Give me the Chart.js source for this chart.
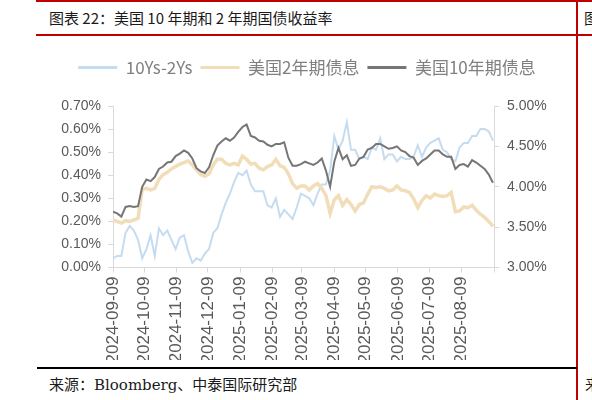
<!DOCTYPE html>
<html>
<head>
<meta charset="utf-8">
<script src="https://cdn.jsdelivr.net/npm/chart.js@4.4.1/dist/chart.umd.min.js"></script>
<style>
  body { margin: 0; background: #fff; }
  #page { position: relative; width: 592px; height: 400px; overflow: hidden; background: #fff; }
  .rule { position: absolute; }
  .txt { position: absolute; white-space: nowrap; }
  #chart { position: absolute; left: 0; top: 0; }
</style>
</head>
<body>
<div id="page">
  <div class="rule" style="left:36px;top:0;width:556px;height:2px;background:#c00000"></div>
  <div class="rule" style="left:36px;top:34px;width:556px;height:2px;background:#c00000"></div>
  <div class="rule" style="left:576px;top:0;width:2px;height:400px;background:#c00000"></div>
  <div class="rule" style="left:37px;top:367px;width:540px;height:2px;background:#000"></div>
  <div class="txt" style="left:49px;top:7px;font:15px 'Noto Sans CJK SC';color:#1a1a1a">图表 22：美国 10 年期和 2 年期国债收益率</div>
  <div class="txt" style="left:584px;top:7px;font:15px 'Noto Sans CJK SC';color:#1a1a1a">图表</div>
  <div class="txt" style="left:49px;top:373px;font:15px 'DejaVu Serif','Noto Sans CJK SC';color:#1a1a1a">来源：Bloomberg、中泰国际研究部</div>
  <div class="txt" style="left:585px;top:373px;font:15px 'Noto Sans CJK SC';color:#1a1a1a">来源</div>
  <canvas id="chart" width="592" height="400"></canvas>
</div>
<script>
// sample dates (every 4 days)
const dates = [
  '2024-09-09','2024-09-13','2024-09-17','2024-09-21','2024-09-25','2024-09-29','2024-10-03','2024-10-07',
  '2024-10-11','2024-10-15','2024-10-19','2024-10-23','2024-10-27','2024-10-31','2024-11-04','2024-11-08',
  '2024-11-12','2024-11-16','2024-11-20','2024-11-24','2024-11-28','2024-12-02','2024-12-06','2024-12-10',
  '2024-12-14','2024-12-18','2024-12-22','2024-12-26','2024-12-30','2025-01-03','2025-01-07','2025-01-11',
  '2025-01-15','2025-01-19','2025-01-23','2025-01-27','2025-01-31','2025-02-04','2025-02-08','2025-02-12',
  '2025-02-16','2025-02-20','2025-02-24','2025-02-28','2025-03-04','2025-03-08','2025-03-12','2025-03-16',
  '2025-03-20','2025-03-24','2025-03-28','2025-04-01','2025-04-05','2025-04-09','2025-04-13','2025-04-17',
  '2025-04-21','2025-04-25','2025-04-29','2025-05-03','2025-05-07','2025-05-11','2025-05-15','2025-05-19',
  '2025-05-23','2025-05-27','2025-05-31','2025-06-04','2025-06-08','2025-06-12','2025-06-16','2025-06-20',
  '2025-06-24','2025-06-28','2025-07-02','2025-07-06','2025-07-10','2025-07-14','2025-07-18','2025-07-22',
  '2025-07-26','2025-07-30','2025-08-03','2025-08-07','2025-08-11','2025-08-15','2025-08-19','2025-08-23',
  '2025-08-27','2025-08-31','2025-09-04','2025-09-08'
];

// 10Ys-2Ys (%), left axis
const spread = [
  0.04,0.05,0.05,0.15,0.18,0.16,0.12,0.04,0.08,0.14,0.05,0.17,0.14,0.16,0.12,0.08,
  0.13,0.14,0.07,0.02,0.04,0.03,0.06,0.08,0.15,0.17,0.23,0.28,0.32,0.37,0.41,0.40,
  0.42,0.36,0.33,0.33,0.33,0.27,0.26,0.30,0.22,0.25,0.23,0.21,0.26,0.32,0.31,0.30,
  0.27,0.32,0.36,0.36,0.42,0.57,0.51,0.55,0.63,0.51,0.51,0.47,0.48,0.47,0.52,0.51,
  0.56,0.47,0.49,0.49,0.46,0.48,0.47,0.47,0.48,0.53,0.48,0.52,0.54,0.55,0.56,0.51,
  0.50,0.47,0.46,0.52,0.54,0.54,0.57,0.57,0.60,0.60,0.59,0.55
];

// 美国2年期债息 (%), right axis
const yield2y = [
  3.59,3.57,3.55,3.58,3.57,3.59,3.61,3.97,3.98,3.96,3.98,4.09,4.15,4.18,4.22,4.25,
  4.28,4.30,4.32,4.27,4.21,4.15,4.13,4.16,4.27,4.34,4.34,4.29,4.27,4.29,4.27,4.38,
  4.34,4.28,4.29,4.23,4.21,4.25,4.27,4.34,4.26,4.24,4.16,4.04,3.98,4.01,4.01,3.96,
  4.01,4.04,3.98,3.89,3.67,3.84,3.89,3.77,3.84,3.78,3.70,3.78,3.80,3.91,4.00,3.99,
  4.00,3.98,3.95,3.96,4.01,3.96,3.95,3.93,3.85,3.74,3.83,3.89,3.86,3.91,3.89,3.88,
  3.89,3.93,3.69,3.70,3.75,3.74,3.77,3.71,3.66,3.62,3.57,3.51
];

// 美国10年期债息 (%), right axis
const yield10y = [
  3.69,3.67,3.63,3.75,3.76,3.75,3.76,4.00,4.09,4.07,4.12,4.22,4.25,4.30,4.31,4.38,
  4.41,4.45,4.42,4.35,4.23,4.19,4.17,4.24,4.39,4.51,4.56,4.60,4.57,4.61,4.68,4.74,
  4.77,4.63,4.61,4.57,4.56,4.52,4.50,4.53,4.53,4.55,4.36,4.26,4.26,4.28,4.31,4.29,
  4.27,4.30,4.35,4.20,4.00,4.31,4.48,4.34,4.39,4.26,4.27,4.35,4.37,4.46,4.48,4.53,
  4.53,4.50,4.47,4.48,4.50,4.45,4.43,4.38,4.36,4.27,4.32,4.35,4.40,4.45,4.45,4.40,
  4.37,4.37,4.22,4.27,4.28,4.25,4.33,4.30,4.26,4.22,4.15,4.05
];

const tickDates = [
  '2024-09-09','2024-10-09','2024-11-09','2024-12-09','2025-01-09','2025-02-09',
  '2025-03-09','2025-04-09','2025-05-09','2025-06-09','2025-07-09','2025-08-09','2025-09-09'
];

const dayOf = s => (Date.parse(s) - Date.parse(dates[0])) / 86400000;
const points = vals => dates.map((d, i) => ({ x: dayOf(d), y: vals[i] }));

const tickFont = { family: 'Liberation Sans', size: 14 };
const axisGray = '#d9d9d9';

// extra room under the legend, and nudge it right like the original
const legendSpace = {
  id: 'legendSpace',
  beforeInit(chart) {
    const fit = chart.legend.fit;
    chart.legend.fit = function () {
      fit.call(this);
      this.height = 55;
    };
  },
  afterLayout(chart) {
    chart.legend.left += 26;
    chart.legend.right += 26;
  }
};

new Chart(document.getElementById('chart'), {
  type: 'line',
  data: {
    datasets: [
      { label: '10Ys-2Ys', data: points(spread), yAxisID: 'yL',
        borderColor: '#c5dcf0', backgroundColor: '#c5dcf0', borderWidth: 2, order: 2 },
      { label: '美国2年期债息', data: points(yield2y), yAxisID: 'yR',
        borderColor: '#f2ddb9', backgroundColor: '#f2ddb9', borderWidth: 3.5, order: 1 },
      { label: '美国10年期债息', data: points(yield10y), yAxisID: 'yR',
        borderColor: '#767676', backgroundColor: '#767676', borderWidth: 2, order: 0 }
    ]
  },
  options: {
    responsive: false,
    animation: false,
    layout: { padding: { top: 51, left: 0, right: 30, bottom: 40 } },
    elements: { point: { radius: 0 }, line: { tension: 0 } },
    plugins: {
      tooltip: { enabled: false },
      legend: {
        position: 'top',
        labels: {
          boxWidth: 39, boxHeight: 3, padding: 8, color: '#808080',
          font: { family: 'Noto Sans CJK SC', size: 17 },
          generateLabels: chart => Chart.defaults.plugins.legend.labels.generateLabels(chart)
            .map(l => Object.assign(l, { lineWidth: 0 }))
            .sort((a, b) => a.datasetIndex - b.datasetIndex)
        }
      }
    },
    scales: {
      x: {
        type: 'linear', min: 0, max: dayOf('2025-09-09'),
        afterBuildTicks: axis => { axis.ticks = tickDates.map(d => ({ value: dayOf(d) })); },
        afterFit: s => { s.height = 92.5; },
        ticks: {
          autoSkip: false, minRotation: 90, maxRotation: 90, padding: 4,
          color: '#595959', font: { family: 'Liberation Sans', size: 17 },
          callback: (v, i) => (i < tickDates.length - 1 ? tickDates[i] : '')
        },
        grid: { drawOnChartArea: false, color: axisGray, tickLength: 5 },
        border: { color: axisGray }
      },
      yL: {
        position: 'left', min: 0, max: 0.7,
        afterFit: s => { s.width = 113; },
        ticks: { stepSize: 0.1, padding: 7, color: '#595959', font: tickFont,
          callback: v => v.toFixed(2) + '%' },
        grid: { drawOnChartArea: false, color: axisGray, tickLength: 5 },
        border: { color: axisGray }
      },
      yR: {
        position: 'right', min: 3, max: 5,
        afterFit: s => { s.width = 68; },
        ticks: { stepSize: 0.5, padding: 8, color: '#595959', font: tickFont,
          callback: v => v.toFixed(2) + '%' },
        grid: { drawOnChartArea: false, color: axisGray, tickLength: 5 },
        border: { color: axisGray }
      }
    }
  },
  plugins: [legendSpace]
});
</script>
</body>
</html>
